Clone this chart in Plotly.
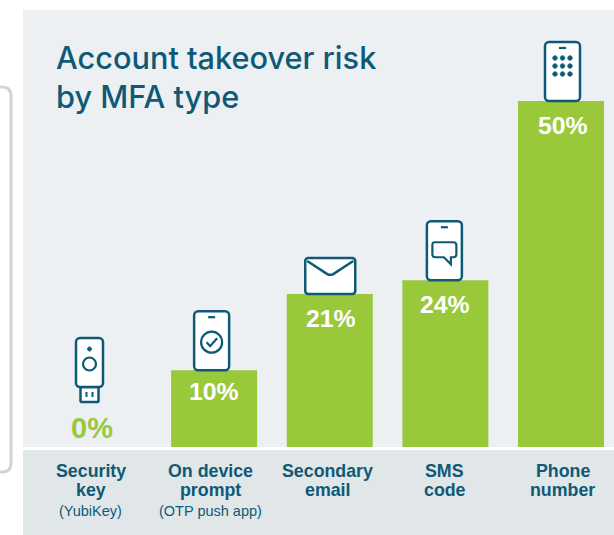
import plotly.graph_objects as go

# ---- data ----
categories = ["Security key", "On device prompt", "Secondary email", "SMS code", "Phone number"]
risk_labels = ["0%", "10%", "21%", "24%", "50%"]
bar_heights = [0, 11.1, 22.1, 24.1, 50]   # drawn heights
label_lines = [["Security", "key"], ["On device", "prompt"], ["Secondary", "email"], ["SMS", "code"], ["Phone", "number"]]
label_notes = ["(YubiKey)", "(OTP push app)", "", "", ""]
title_text = "Account takeover risk<br>by MFA type"

# ---- style ----
W, H = 614, 535
BASE = 447
GREEN, TEAL, PANEL, BAND = "#9ac83b", "#0e5a76", "#ecf0f3", "#e1e6e9"
FONT = "Liberation Sans"
CX = [98.5, 214, 329.5, 445.5, 561]
STEP = 115.625
px_y = (BASE - 0) / 6.92

def xp(x): return x / W
def yp(y): return (BASE - y) / BASE

def rrect(x0, y0, x1, y1, r):
    k = r * 0.45
    return (f"M{x0+r},{y0} L{x1-r},{y0} C{x1-k},{y0} {x1},{y0+k} {x1},{y0+r} L{x1},{y1-r} "
            f"C{x1},{y1-k} {x1-k},{y1} {x1-r},{y1} L{x0+r},{y1} C{x0+k},{y1} {x0},{y1-k} {x0},{y1-r} "
            f"L{x0},{y0+r} C{x0},{y0+k} {x0+k},{y0} {x0+r},{y0} Z")

def circle(cx, cy, r):
    k = r * 0.5523
    return (f"M{cx-r},{cy} C{cx-r},{cy+k} {cx-k},{cy+r} {cx},{cy+r} C{cx+k},{cy+r} {cx+r},{cy+k} {cx+r},{cy} "
            f"C{cx+r},{cy-k} {cx+k},{cy-r} {cx},{cy-r} C{cx-k},{cy-r} {cx-r},{cy-k} {cx-r},{cy} Z")

shapes = [
    dict(type="rect", xref="paper", yref="paper", x0=xp(23), x1=xp(W + 5), y0=yp(H + 5), y1=yp(10),
         fillcolor=PANEL, line_width=0, layer="below"),
    dict(type="rect", xref="paper", yref="paper", x0=xp(23), x1=xp(W + 5), y0=yp(H + 5), y1=yp(450),
         fillcolor=BAND, line_width=0, layer="below"),
    dict(type="rect", xref="paper", yref="paper", x0=xp(23), x1=xp(W + 5), y0=yp(450), y1=yp(BASE),
         fillcolor="#ffffff", line_width=0, layer="below"),
    dict(type="path", xref="paper", yref="paper", layer="below",
         path=f"M{xp(-6)},{yp(87)} L{xp(2)},{yp(87)} C{xp(8)},{yp(87)} {xp(11)},{yp(90)} {xp(11)},{yp(96)} "
              f"L{xp(11)},{yp(463)} C{xp(11)},{yp(469)} {xp(8)},{yp(472)} {xp(2)},{yp(472)} L{xp(-6)},{yp(472)}",
         line=dict(color="#d4d4d4", width=3)),
]

def translate(path, dx, dy):
    out, is_x = [], True
    for tok in path.replace(",", " ").split():
        cmd = ""
        while tok and tok[0].isalpha():
            cmd += tok[0]; tok = tok[1:]
        if tok == "":
            out.append(cmd); continue
        v = float(tok) + (dx if is_x else dy)
        out.append(f"{cmd}{v:.2f}" + ("," if is_x else ""))
        is_x = not is_x
    return " ".join(out).replace(", ", ",")

def icon(i, parts, xoff, yoff):
    """Parts are drawn in pixels, with the origin at the bar's top centre."""
    for path, fill, lw in parts:
        shapes.append(dict(type="path", xsizemode="pixel", ysizemode="pixel",
                           xanchor=i, yanchor=bar_heights[i], xref="x", yref="y",
                           path=translate(path, xoff, yoff),
                           fillcolor=fill, line=dict(color=TEAL, width=lw), layer="above"))

W_FILL = "#ffffff"
NONE = "rgba(0,0,0,0)"
def phone(h=59, w=35):
    return [(rrect(-w/2, 0, w/2, h, 4), W_FILL, 2.5),
            (f"M-3.5,{h-6} L3.5,{h-6}", NONE, 2.2)]

# security key
key = [(rrect(-9, -15, 9, 0, 1), W_FILL, 2.5),
       (rrect(-13.5, 0, 13.5, 49, 4), W_FILL, 2.5),
       (circle(0, 38, 2), TEAL, 1),
       (circle(0, 23, 6.5), W_FILL, 2.2),
       ("M-3,-10 L-3,-5", NONE, 2),
       ("M3,-10 L3,-5", NONE, 2)]
icon(0, key, 89.5 - CX[0], BASE - 387)

# on device prompt
prompt = phone() + [(circle(0, 28, 10.5), W_FILL, 2.2),
                    ("M-5,28 L-1.5,24 L5.5,32", NONE, 2.2)]
icon(1, prompt, 211.5 - CX[1], 0)

# secondary email
mail = [(rrect(-25, 0, 25, 36, 3), W_FILL, 2.5),
        ("M-23,33 L-3,20 C-1,19 1,19 3,20 L23,33", NONE, 2.5)]
icon(2, mail, 330 - CX[2], 0)

# sms
sms = phone() + [("M-10,38 C-12,38 -12,36 -12,35 L-12,26 C-12,24 -11,23 -9,23 L-0.5,23 L6.5,16 L6.5,23 "
                  "L9,23 C11,23 12,24 12,26 L12,35 C12,37 11,38 9,38 Z", W_FILL, 2.2)]
icon(3, sms, 444.5 - CX[3], 0)

# phone number
dots = [(circle(dx, dy, 2.3), TEAL, 0.8) for dx in (-7.5, 0, 7.5) for dy in (43, 35, 27)]
icon(4, phone() + dots, 562.5 - CX[4], 0)

# ---- labels ----
annotations = []
pct_dy = [-19, 21, 24, 24, 24]
pct_dx = [-6.5, 0, 1, 0, 1.5]
pct_size = [29, 24.8, 24.8, 24.8, 24.8]
for i, lab in enumerate(risk_labels):
    annotations.append(dict(x=i, y=bar_heights[i], xref="x", yref="y", text=f"<b>{lab}</b>", showarrow=False,
                            yanchor="middle", xanchor="center", xshift=pct_dx[i], yshift=-pct_dy[i],
                            font=dict(family=FONT, size=pct_size[i], color=GREEN if i == 0 else "#ffffff")))
lab_dx = [-8, -4, -2.5, -0.5, 1.5]
for i, lines in enumerate(label_lines):
    for j, line in enumerate(lines):
        annotations.append(dict(x=i, y=0, xref="x", yref="paper", text=f"<b>{line}</b>", showarrow=False,
                                yanchor="middle", xanchor="center", xshift=lab_dx[i], yshift=-(24 + 19 * j),
                                font=dict(family=FONT, size=17.8, color=TEAL)))
    if label_notes[i]:
        annotations.append(dict(x=i, y=0, xref="x", yref="paper", text=label_notes[i], showarrow=False,
                                yanchor="middle", xanchor="center", xshift=lab_dx[i], yshift=-64,
                                font=dict(family=FONT, size=14.5, color=TEAL)))

fig = go.Figure(go.Bar(x=list(range(len(categories))), y=bar_heights, width=86 / STEP,
                       marker=dict(color=GREEN, line_width=0),
                       customdata=categories, hovertemplate="%{customdata}<extra></extra>"))
fig.update_layout(
    width=W, height=H, autosize=False,
    margin=dict(l=0, r=0, t=0, b=H - BASE, autoexpand=False),
    paper_bgcolor="#ffffff", plot_bgcolor="rgba(0,0,0,0)", showlegend=False,
    title=dict(text=title_text, xref="paper", yref="container", x=xp(56), xanchor="left",
               y=1 - 68.5 / H, yanchor="top", font=dict(family="Inter", size=30.7, weight=500, color=TEAL)),
    xaxis=dict(range=[(0 - CX[0]) / STEP, (W - CX[0]) / STEP], showgrid=False, zeroline=False,
               showticklabels=False, ticks="", showline=False, fixedrange=True),
    yaxis=dict(range=[0, px_y], showgrid=False, zeroline=False, showticklabels=False,
               ticks="", showline=False, fixedrange=True),
    shapes=shapes, annotations=annotations,
)
fig.write_html("out.html", config=dict(displayModeBar=False),
               post_script="document.body.style.margin='0';document.documentElement.style.overflow='hidden';")
